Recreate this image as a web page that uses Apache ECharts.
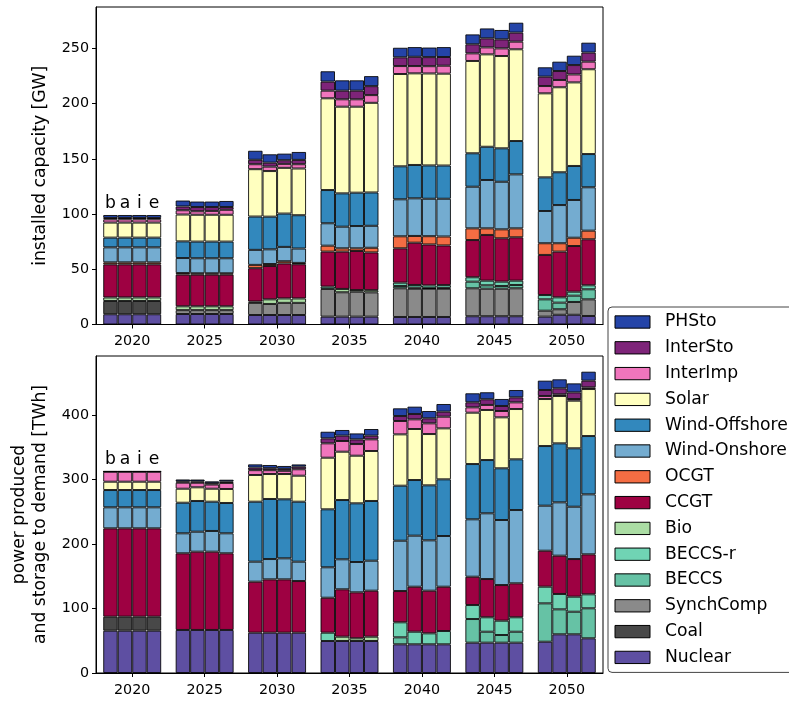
<!DOCTYPE html>
<html>
<head>
<meta charset="utf-8">
<script src="https://cdn.jsdelivr.net/npm/echarts@6/dist/echarts.min.js"></script>
<style>
  html, body { margin: 0; padding: 0; background: #fff; }
  #chart { width: 789px; height: 701px; }
</style>
</head>
<body>
<div id="chart"></div>
<script>
// ---- data -------------------------------------------------------------
const years = ['2020', '2025', '2030', '2035', '2040', '2045', '2050'];
const scenarios = ['b', 'a', 'i', 'e'];
// technologies from the bottom of each stack to the top
const techs = ['Nuclear', 'Coal', 'SynchComp', 'BECCS', 'BECCS-r', 'Bio', 'CCGT', 'OCGT',
  'Wind-Onshore', 'Wind-Offshore', 'Solar', 'InterImp', 'InterSto', 'PHSto'];
const techColors = ['#5e4fa2', '#484848', '#8a8a8a', '#66c2a5', '#70d4b4', '#abdda4', '#9e0142', '#f46d43',
  '#74acd0', '#3288bd', '#ffffbf', '#f075bd', '#7e2479', '#2444a8'];

// installed capacity [GW]; four values per year, in scenario order b, a, i, e
const capNuclear   = [9.3, 9.3, 9.3, 9.3,  9.5, 9.5, 9.5, 9.5,  8.6, 8.6, 8.6, 8.6,  7.1, 7.1, 7.1, 7.1,  6.8, 6.8, 6.8, 6.8,  7.5, 7.5, 7.5, 7.5,  7.1, 8.8, 8.8, 7.7];
const capCoal      = [12, 12, 12, 12,  0, 0, 0, 0,  0, 0, 0, 0,  0, 0, 0, 0,  0, 0, 0, 0,  0, 0, 0, 0,  0, 0, 0, 0];
const capSynchComp = [0, 0, 0, 0,  3.5, 3.5, 3.5, 3.5,  11, 10, 11, 11,  25.1, 22.1, 22.6, 22,  26, 25.6, 25.6, 25.6,  25.3, 24.9, 24.9, 25.3,  5.4, 5, 11.6, 15.1];
const capBECCS     = [0, 0, 0, 0,  0, 0, 0, 0,  0, 0, 0, 0,  0, 0, 0, 0,  2.1, 1, 0.5, 0.8,  6, 3.1, 2.5, 3,  10.3, 6, 5.7, 9.1];
const capBECCSr    = [0, 0, 0, 0,  0, 0, 0, 0,  0, 0, 0, 0,  2.1, 0, 0, 0,  3, 2.4, 2.5, 2.5,  4, 4.2, 3.9, 3.9,  3.9, 4.8, 3.6, 3.6];
const capBio       = [3.2, 3.2, 3.2, 3.2,  3.5, 3.5, 3.5, 3.5,  1.2, 4.2, 4, 4,  0, 3, 1.5, 2,  0, 0, 0, 0,  0, 0, 0, 0,  0, 0, 0, 0];
const capCCGT      = [30, 30, 30, 30,  28.7, 28.7, 28.7, 28.7,  30.2, 30.2, 31.7, 31,  31.7, 33.8, 35.4, 34.2,  31.1, 38.3, 37.1, 35.9,  33.7, 41.4, 39.3, 39.3,  36.3, 41.4, 41.4, 41.7];
const capOCGT      = [1.8, 1.8, 1.8, 1.8,  1.4, 1.2, 1.2, 1.2,  3, 1.8, 2, 1.2,  5.4, 3, 2.4, 4.2,  10.9, 6.1, 7.5, 8.1,  10.6, 6, 8.1, 8.1,  10.6, 7.6, 7.5, 7.8];
const capOnshore   = [13.6, 13.6, 13.6, 13.6,  13.6, 13.6, 13.6, 13.6,  13.6, 13.3, 13, 13,  20.3, 19.6, 20.2, 19.9,  33.5, 34.1, 33.9, 34.2,  37.7, 43.8, 43.1, 48.9,  29.2, 34.6, 34.2, 39.3];
const capOffshore  = [8.8, 8.8, 8.8, 8.8,  15.1, 15.1, 15.1, 15.1,  30.2, 29.6, 30.2, 30.2,  30.1, 30.2, 30.2, 30.2,  29.9, 30.2, 30.2, 30.1,  30.3, 30.1, 30.3, 30.2,  30.5, 29.7, 30.8, 30.1];
const capSolar     = [13.6, 13.6, 13.6, 13.6,  24.3, 24.3, 24.3, 24.3,  42.9, 41.3, 41.4, 42.3,  83.1, 78.5, 77.9, 81.2,  83.6, 83, 83.3, 83.2,  83.6, 83.7, 83.6, 83.1,  76.1, 77, 75.7, 76.8];
const capInterImp  = [3, 3, 3, 3,  3.9, 3.2, 3.5, 4.5,  4.5, 4, 3.6, 3.9,  6.9, 6.7, 6.7, 7,  7.2, 6.6, 6.6, 7.2,  6.9, 6.3, 6.9, 6.9,  6.6, 6.6, 7.2, 6.9];
const capInterSto  = [1.2, 1.2, 1.2, 1.2,  3.4, 3.8, 3.5, 2.5,  4, 3.6, 3.3, 3.9,  8.2, 7.8, 7.8, 8.1,  7.9, 8.4, 8.2, 7.9,  8.2, 8.2, 8.2, 8.2,  8.5, 8.1, 8.5, 8.2];
const capPHSto     = [2.7, 2.7, 2.7, 2.7,  5.4, 5, 5, 5.5,  8.2, 7.6, 6, 7.2,  9.4, 9.4, 9.4, 9.1,  8.7, 8.8, 8.7, 9,  9, 9, 8.5, 9,  8.5, 8.5, 8.5, 9];

// power produced and storage to demand [TWh]; same layout
const enNuclear   = [65.6, 65.6, 65.6, 65.6,  66.7, 66.7, 66.7, 66.7,  62.5, 62.5, 62.5, 62.5,  49.6, 49.6, 49.6, 49.6,  44.5, 44.5, 44.5, 44.5,  47, 47, 47, 47,  48.5, 60, 60, 53.8];
const enCoal      = [21.7, 21.7, 21.7, 21.7,  0, 0, 0, 0,  0, 0, 0, 0,  0, 0, 0, 0,  0, 0, 0, 0,  0, 0, 0, 0,  0, 0, 0, 0];
const enSynchComp = [0, 0, 0, 0,  0, 0, 0, 0,  0, 0, 0, 0,  0, 0, 0, 0,  0, 0, 0, 0,  0, 0, 0, 0,  0, 0, 0, 0];
const enBECCS     = [0, 0, 0, 0,  0, 0, 0, 0,  0, 0, 0, 0,  0, 0, 0, 0,  10.8, 0, 0, 0,  36.7, 17, 11.9, 17,  59.5, 38.7, 35, 46.5];
const enBECCSr    = [0, 0, 0, 0,  0, 0, 0, 0,  0, 0, 0, 0,  12.9, 0, 0, 0,  23.3, 19.5, 17, 20.6,  21.7, 22.4, 22.2, 22.4,  25.8, 23.8, 23.3, 21.7];
const enBio       = [0, 0, 0, 0,  0, 0, 0, 0,  0, 0, 0, 0,  0, 6.7, 4.2, 6.7,  0, 0, 0, 0,  0, 0, 0, 0,  0, 0, 0, 0];
const enCCGT      = [137, 137, 137, 137,  118.9, 121.4, 121.4, 118.9,  79.1, 82.7, 82.7, 80.1,  54.2, 73.5, 71.3, 71.3,  48.5, 69.8, 66.1, 68.7,  43.9, 59.3, 55.3, 52.7,  55.8, 59.4, 58.4, 62];
const enOCGT      = [0, 0, 0, 0,  0, 0, 0, 0,  0, 0, 0, 0,  0, 0, 0, 0,  0, 0, 0, 0,  0, 0, 0, 0,  0, 0, 0, 0];
const enOnshore   = [32.6, 32.6, 32.6, 32.6,  31, 31, 32.1, 31,  31, 31.5, 32.6, 30,  47.2, 46.5, 47, 46.5,  78, 79.1, 78.1, 78.6,  89, 101.9, 100.8, 113.6,  69.8, 82.7, 81.1, 93];
const enOffshore  = [26.8, 26.8, 26.8, 26.8,  47.4, 47.6, 45.4, 47,  93, 93.1, 91.5, 93,  89.9, 91.9, 91, 92.6,  85.3, 86.3, 85.3, 87.9,  85.7, 82.6, 80.2, 78.6,  92.5, 91.5, 90.6, 90.4];
const enSolar     = [12.9, 12.9, 12.9, 12.9,  21.7, 21.2, 20.1, 21.7,  41.4, 38.7, 39.2, 40.3,  80, 74.9, 73.8, 77.5,  79.6, 79.1, 79.5, 79,  79.6, 77.6, 79, 78,  72.9, 73.4, 73.8, 72.9];
const enInterImp  = [15.5, 15.5, 15.5, 15.5,  9.4, 7.1, 6.5, 9.4,  7.5, 6, 5, 10,  22.3, 16.6, 18.1, 18.1,  20.7, 15, 16.6, 18.1,  8.3, 7.8, 9.8, 10.3,  4.7, 2.6, 2.6, 2.6];
const enInterSto  = [0.3, 0.3, 0.3, 0.3,  2, 2, 2, 2,  4, 3, 3, 4,  7.7, 8.3, 7.2, 5.7,  7.7, 8.3, 7.8, 7.8,  7.8, 8.8, 7.8, 7.8,  9.3, 9.3, 10.3, 10.3];
const enPHSto     = [0.3, 0.3, 0.3, 0.3,  3, 3, 3, 3,  5, 5, 4.5, 3.5,  10.3, 8.8, 9.3, 10.3,  12, 11.4, 11.3, 11.9,  14, 10.9, 10.9, 11.4,  14.5, 14, 14, 14];

const yTicksCap = [0, 50, 100, 150, 200, 250];
const yTicksEn = [0, 100, 200, 300, 400];

// ---- chart ------------------------------------------------------------
const FONT = 'DejaVu Sans';
const capByTech = [capNuclear, capCoal, capSynchComp, capBECCS, capBECCSr, capBio, capCCGT, capOCGT,
  capOnshore, capOffshore, capSolar, capInterImp, capInterSto, capPHSto];
const enByTech = [enNuclear, enCoal, enSynchComp, enBECCS, enBECCSr, enBio, enCCGT, enOCGT,
  enOnshore, enOffshore, enSolar, enInterImp, enInterSto, enPHSto];

function stackedSeries(valuesByTech, gridIdx) {
  const out = [];
  scenarios.forEach((sc, k) => {
    techs.forEach((tech, ti) => {
      const data = years.map((_, j) => {
        const v = valuesByTech[ti][j * 4 + k];
        return v > 0 ? v : '-';
      });
      if (ti === techs.length - 1) {
        // scenario letter above the first group of bars
        data[0] = {
          value: data[0],
          label: {
            show: true, position: 'top', distance: 3, formatter: sc,
            fontFamily: FONT, fontSize: 17.2, color: '#000'
          }
        };
      }
      out.push({
        type: 'bar',
        name: tech,
        stack: 'g' + gridIdx + sc,
        xAxisIndex: gridIdx,
        yAxisIndex: gridIdx,
        barWidth: 14.5,
        barGap: '0%',
        data: data,
        itemStyle: { color: techColors[ti], borderColor: 'rgba(0,0,0,0.85)', borderWidth: 1 },
        emphasis: { disabled: true }
      });
    });
  });
  return out;
}

function xAxis(gridIdx) {
  return {
    type: 'category', gridIndex: gridIdx, data: years,
    axisLine: { show: true, lineStyle: { color: '#000', width: 1 } },
    axisTick: { show: true, alignWithLabel: true, length: 4, lineStyle: { color: '#000' } },
    axisLabel: { fontFamily: FONT, fontSize: 14.3, color: '#000', margin: 10 },
    splitLine: { show: false }
  };
}

function yAxis(gridIdx, max, interval, ticks, name, nameGap, lineHeight) {
  return {
    type: 'value', gridIndex: gridIdx, min: 0, max: max, interval: interval,
    name: name, nameLocation: 'middle', nameGap: nameGap,
    nameTextStyle: { fontFamily: FONT, fontSize: 17.2, color: '#000', lineHeight: lineHeight },
    axisLine: { show: true, lineStyle: { color: '#000', width: 1 } },
    axisTick: { show: true, length: 4, lineStyle: { color: '#000' }, customValues: ticks },
    axisLabel: { fontFamily: FONT, fontSize: 14.3, color: '#000', margin: 7, customValues: ticks },
    splitLine: { show: false }
  };
}

const chart = echarts.init(document.getElementById('chart'), null, { renderer: 'canvas' });
chart.setOption({
  animation: false,
  backgroundColor: '#fff',
  grid: [
    { left: 96, top: 7, width: 507, height: 317.5, show: true, borderColor: '#000', borderWidth: 1 },
    { left: 96, top: 356, width: 507, height: 317, show: true, borderColor: '#000', borderWidth: 1 }
  ],
  xAxis: [xAxis(0), xAxis(1)],
  yAxis: [
    yAxis(0, 287.6, 50, yTicksCap, 'installed capacity [GW]', 45, 21),
    yAxis(1, 491.5, 100, yTicksEn, 'power produced\nand storage to demand [TWh]', 38, 21)
  ],
  legend: {
    orient: 'vertical',
    left: 608, top: 307,
    padding: [6.5, 8, 6.5, 6.5],
    itemWidth: 35, itemHeight: 12.3,
    itemGap: 8.8,
    icon: 'rect',
    selectedMode: false,
    backgroundColor: '#fff',
    borderColor: '#444',
    borderWidth: 1,
    borderRadius: 4,
    itemStyle: { borderColor: '#000', borderWidth: 1 },
    textStyle: { fontFamily: FONT, fontSize: 17.2, color: '#000', lineHeight: 17, padding: [0, 0, 0, 10] },
    data: techs.slice().reverse()
  },
  series: stackedSeries(capByTech, 0).concat(stackedSeries(enByTech, 1))
});
</script>
</body>
</html>
